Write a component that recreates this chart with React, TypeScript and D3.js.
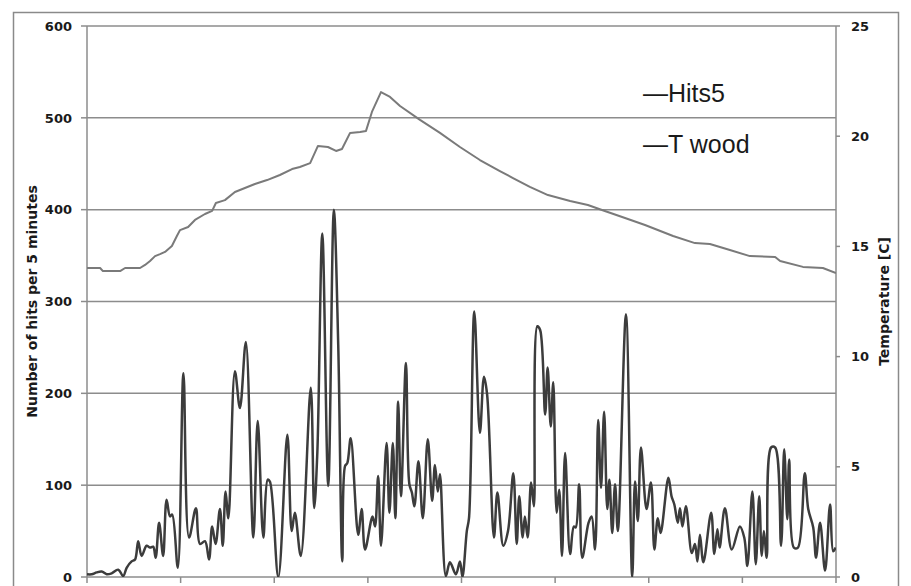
import React from 'react';
import * as d3 from 'd3';

// time in hours since start, hits per 5 minutes
const hitTimes = [
  0.0, 0.15, 0.31, 0.47, 0.63, 0.79, 1.0, 1.16, 1.27, 1.43, 1.54, 1.64, 1.75, 1.91, 2.02, 2.12, 2.2, 2.31, 2.44, 2.55,
  2.66, 2.73, 2.91, 3.09, 3.27, 3.49, 3.62, 3.78, 3.91, 4.01, 4.12, 4.26, 4.35, 4.44, 4.53, 4.74, 4.9, 5.09, 5.33, 5.47,
  5.65, 5.79, 5.86, 6.13, 6.42, 6.56, 6.66, 6.85, 7.17, 7.28, 7.38, 7.54, 7.73, 7.91, 8.05, 8.18, 8.27, 8.34, 8.45, 8.69,
  8.8, 8.91, 9.15, 9.23, 9.33, 9.42, 9.6, 9.69, 9.8, 9.88, 9.97, 10.06, 10.22, 10.33, 10.41, 10.49, 10.62, 10.76, 10.92, 11.06,
  11.15, 11.24, 11.31, 11.5, 11.63, 11.82, 11.95, 12.03, 12.17, 12.24, 12.41, 12.59, 12.72, 12.82, 13.04, 13.15, 13.34, 13.49, 13.66, 13.77,
  13.85, 13.96, 14.03, 14.12, 14.23, 14.32, 14.43, 14.52, 14.68, 14.76, 14.86, 14.94, 15.05, 15.13, 15.22, 15.32, 15.48, 15.6, 15.66, 15.77,
  15.87, 16.07, 16.17, 16.28, 16.38, 16.47, 16.57, 16.67, 16.74, 16.83, 16.92, 17.01, 17.27, 17.47, 17.56, 17.65, 17.75, 17.93, 18.07, 18.18,
  18.29, 18.38, 18.63, 18.73, 18.82, 18.93, 19.0, 19.08, 19.19, 19.38, 19.48, 19.56, 19.64, 19.75, 20.0, 20.1, 20.2, 20.27, 20.44, 20.66,
  20.92, 21.06, 21.16, 21.32, 21.43, 21.54, 21.62, 21.69, 21.78, 21.92, 22.05, 22.24, 22.34, 22.44, 22.5, 22.65, 22.78, 23.0, 23.11, 23.27,
  23.36, 23.49, 23.65, 23.81, 23.91, 23.99,
];
const hits5 = [
  3, 3, 5, 6, 3, 4, 8, 1, 10, 17, 19, 39, 23, 34, 32, 33, 21, 59, 23, 84,
  66, 68, 10, 222, 43, 75, 36, 39, 19, 55, 36, 74, 34, 93, 64, 224, 184, 256, 43, 170,
  43, 106, 104, 0, 155, 50, 70, 23, 206, 75, 135, 374, 99, 400, 253, 17, 121, 124, 151, 46,
  74, 30, 66, 55, 110, 34, 146, 70, 146, 64, 191, 88, 233, 101, 92, 77, 126, 64, 150, 83,
  122, 93, 112, 1, 16, 3, 17, 0, 50, 64, 289, 157, 218, 199, 43, 92, 34, 50, 113, 36,
  88, 43, 66, 43, 103, 77, 273, 269, 177, 228, 164, 212, 70, 95, 23, 135, 25, 55, 54, 101,
  21, 59, 66, 30, 171, 97, 180, 74, 106, 48, 101, 50, 286, 0, 104, 61, 141, 74, 103, 30,
  64, 48, 108, 88, 79, 59, 75, 55, 77, 26, 36, 17, 46, 16, 70, 25, 52, 32, 75, 30,
  55, 43, 12, 93, 14, 88, 23, 50, 21, 141, 141, 34, 139, 63, 128, 32, 32, 113, 74, 54,
  21, 59, 7, 79, 28, 32,
];

// wood temperature [C]
const tempTimes = [
  0.0, 0.42, 0.51, 1.06, 1.22, 1.7, 1.86, 2.02, 2.18, 2.34, 2.5, 2.72, 2.88, 2.98, 3.24, 3.46, 3.78, 4.01, 4.13, 4.42,
  4.74, 5.06, 5.38, 5.77, 6.18, 6.57, 6.82, 7.15, 7.4, 7.72, 7.98, 8.17, 8.43, 8.75, 8.94, 9.13, 9.42, 9.71, 10.03, 10.67,
  11.31, 11.95, 12.59, 13.23, 13.65, 14.19, 14.77, 15.48, 16.05, 16.5, 17.24, 17.88, 18.78, 19.48, 19.96, 20.6, 21.24, 22.05, 22.21, 22.94,
  23.58, 24.0,
];
const tWood = [
  14.02, 14.02, 13.88, 13.88, 14.02, 14.02, 14.16, 14.34, 14.56, 14.65, 14.75, 15.02, 15.47, 15.74, 15.88, 16.2, 16.47, 16.61, 16.97, 17.1,
  17.47, 17.65, 17.83, 18.01, 18.24, 18.51, 18.6, 18.78, 19.56, 19.51, 19.33, 19.42, 20.15, 20.19, 20.24, 21.1, 22.0, 21.78, 21.37, 20.74,
  20.15, 19.51, 18.92, 18.42, 18.1, 17.7, 17.33, 17.06, 16.88, 16.65, 16.29, 15.97, 15.47, 15.15, 15.11, 14.84, 14.56, 14.52, 14.34, 14.07,
  14.02, 13.79,
];

const leftTicks = [0, 100, 200, 300, 400, 500, 600];
const rightTicks = [0, 5, 10, 15, 20, 25];
const xTicks = [0, 3, 6, 9, 12, 15, 18, 21, 24];

const W = 911;
const H = 586;
const margin = { top: 26, right: 75, bottom: 9, left: 87 };

export default function App() {
  const x = d3.scaleLinear().domain([0, 24]).range([margin.left, W - margin.right]);
  const y = d3.scaleLinear().domain([0, 600]).range([H - margin.bottom, margin.top]);
  const yT = d3.scaleLinear().domain([0, 25]).range([H - margin.bottom, margin.top]);

  const hitsLine = d3
    .line<number>()
    .x((_, i) => x(hitTimes[i]))
    .y((d) => y(d))
    .curve(d3.curveCatmullRom.alpha(0.5));

  const tempLine = d3
    .line<number>()
    .x((_, i) => x(tempTimes[i]))
    .y((d) => yT(d));

  const x0 = x(0);
  const x1 = x(24);
  const yb = y(0);
  const axisColor = '#8c8c8c';
  const tickFont = { fontFamily: 'DejaVu Sans', fontWeight: 'bold', fontSize: 13, fill: '#1a1a1a' } as const;

  return (
    <svg width={W} height={H} style={{ position: 'absolute', left: 0, top: 0, background: '#fff' }}>
      <defs>
        <clipPath id="plot">
          <rect x={x0} y={margin.top - 5} width={x1 - x0} height={yb - margin.top + 5} />
        </clipPath>
      </defs>
      <rect x={13.5} y={12.5} width={885} height={620} fill="none" stroke="#8a8a8a" strokeWidth={1.5} />

      {/* gridlines */}
      {leftTicks.map((t) => (
        <line key={'g' + t} x1={x0} x2={x1} y1={y(t)} y2={y(t)} stroke={axisColor} strokeWidth={1.5} />
      ))}

      {/* left axis */}
      <line x1={x0} x2={x0} y1={margin.top} y2={yb} stroke={axisColor} strokeWidth={1.5} />
      {leftTicks.map((t) => (
        <g key={'l' + t}>
          <line x1={x0 - 6} x2={x0} y1={y(t)} y2={y(t)} stroke={axisColor} strokeWidth={1.5} />
          <text x={72} y={y(t)} dy="0.36em" textAnchor="end" {...tickFont}>
            {t}
          </text>
        </g>
      ))}

      {/* right axis */}
      <line x1={x1} x2={x1} y1={margin.top} y2={yb} stroke={axisColor} strokeWidth={1.5} />
      {rightTicks.map((t) => (
        <g key={'r' + t}>
          <line x1={x1} x2={x1 + 4} y1={yT(t)} y2={yT(t)} stroke={axisColor} strokeWidth={1.5} />
          <text x={851} y={yT(t)} dy="0.36em" textAnchor="start" {...tickFont}>
            {t}
          </text>
        </g>
      ))}

      {/* bottom axis ticks */}
      {xTicks.map((t) => (
        <line key={'x' + t} x1={x(t)} x2={x(t)} y1={yb} y2={yb + 6} stroke={axisColor} strokeWidth={1.5} />
      ))}

      {/* axis titles */}
      <text
        transform={`translate(37,${(margin.top + yb) / 2}) rotate(-90)`}
        textAnchor="middle"
        fontFamily="DejaVu Sans"
        fontWeight="bold"
        fontSize={14}
        fill="#1a1a1a"
      >
        Number of hits per 5 minutes
      </text>
      <text
        transform={`translate(889,${(margin.top + yb) / 2}) rotate(-90)`}
        textAnchor="middle"
        fontFamily="DejaVu Sans"
        fontWeight="bold"
        fontSize={14}
        fill="#1a1a1a"
      >
        Temperature [C]
      </text>

      {/* series */}
      <g clipPath="url(#plot)">
        <path d={tempLine(tWood) ?? ''} fill="none" stroke="#7a7a7a" strokeWidth={2} strokeLinejoin="round" />
        <path d={hitsLine(hits5) ?? ''} fill="none" stroke="#3c3c3c" strokeWidth={2.5} strokeLinejoin="round" />
      </g>

      {/* legend */}
      <text x={643} y={102} fontFamily="Liberation Sans" fontSize={25} fill="#1a1a1a">
        —Hits5
      </text>
      <text x={643} y={153} fontFamily="Liberation Sans" fontSize={25} fill="#1a1a1a">
        —T wood
      </text>
    </svg>
  );
}
